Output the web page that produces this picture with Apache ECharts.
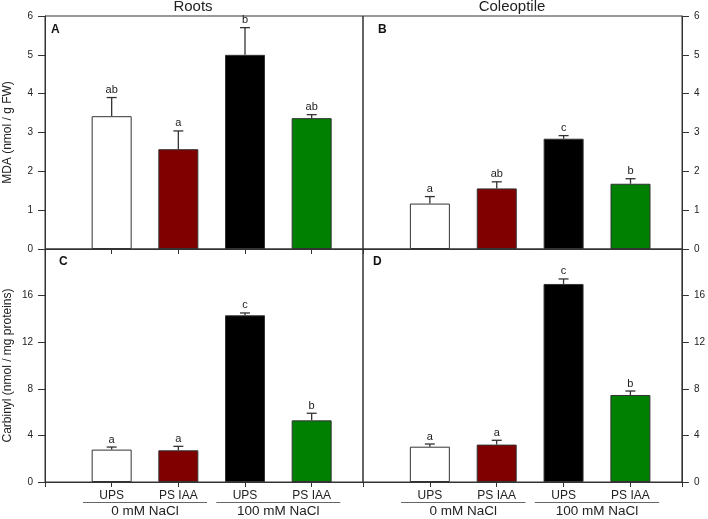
<!DOCTYPE html>
<html>
<head>
<meta charset="utf-8">
<script src="https://cdn.jsdelivr.net/npm/echarts@6/dist/echarts.min.js"></script>
<style>
  html, body { margin: 0; padding: 0; background: #fff; }
  #main { width: 708px; height: 519px; }
</style>
</head>
<body>
<div id="main"></div>
<script>
// categories and groups
var categories = ['UPS', 'PS IAA', 'UPS', 'PS IAA'];
var groups = ['0 mM NaCl', '100 mM NaCl'];
var barColors = ['#ffffff', '#800000', '#000000', '#008000'];

// MDA (nmol / g FW)
var mdaRoots = [3.42, 2.57, 5.0, 3.37];
var mdaRootsSd = [0.48, 0.47, 0.70, 0.09];
var mdaRootsSig = ['ab', 'a', 'b', 'ab'];
var mdaCol = [1.17, 1.56, 2.84, 1.68];
var mdaColSd = [0.18, 0.17, 0.08, 0.13];
var mdaColSig = ['a', 'ab', 'c', 'b'];

// Carbinyl (nmol / mg proteins)
var carbRoots = [2.78, 2.72, 14.31, 5.29];
var carbRootsSd = [0.22, 0.34, 0.20, 0.61];
var carbRootsSig = ['a', 'a', 'c', 'b'];
var carbCol = [3.03, 3.21, 17.0, 7.47];
var carbColSd = [0.23, 0.37, 0.43, 0.34];
var carbColSig = ['a', 'a', 'c', 'b'];

var FONT = '"Liberation Sans", Arial, sans-serif';
var XMAX = 4.77;
var chart = echarts.init(document.getElementById('main'));

// panel layout: A B / C D
var grids = [
    { left: 45, top: 16, width: 318, height: 233 },
    { left: 363, top: 16, width: 319, height: 233 },
    { left: 45, top: 249, width: 318, height: 233 },
    { left: 363, top: 249, width: 319, height: 233 }
];

function xAxisFor(i, showLabels, showTicks) {
    return {
        type: 'value', gridIndex: i, min: 0, max: XMAX, interval: 1,
        axisLine: { lineStyle: { color: '#333' } },
        splitLine: { show: false },
        axisTick: { show: showTicks, length: 5, lineStyle: { color: '#333' } },
        axisLabel: {
            show: showLabels, margin: 8, fontSize: 12, color: '#222', fontFamily: FONT,
            formatter: function (v) {
                return (v >= 1 && v <= 4 && v === Math.round(v)) ? categories[v - 1] : '';
            }
        }
    };
}

function yAxisFor(i, pos, max, interval, name) {
    return {
        type: 'value', gridIndex: i, position: pos, min: 0, max: max, interval: interval,
        name: name, nameLocation: 'middle', nameGap: 31,
        nameTextStyle: { fontSize: 12, color: '#222', fontFamily: FONT },
        axisLine: { show: true, onZero: false, lineStyle: { color: '#333' } },
        splitLine: { show: false },
        axisTick: { show: true, length: 7, lineStyle: { color: '#333' } },
        axisLabel: {
            fontSize: 10, color: '#222', fontFamily: FONT, margin: 12,
            showMaxLabel: max !== 20
        }
    };
}

function barSeries(i, vals) {
    return {
        type: 'bar', xAxisIndex: i, yAxisIndex: i, barWidth: 40,
        data: vals.map(function (v, k) {
            return { value: [k + 1, v], itemStyle: { color: barColors[k] } };
        }),
        itemStyle: { borderColor: '#333', borderWidth: 1 },
        silent: true
    };
}

function errSeries(i, vals, sd, sig) {
    return {
        type: 'custom', xAxisIndex: i, yAxisIndex: i, silent: true, z: 5,
        data: vals.map(function (v, k) { return [k + 1, v, v + sd[k], k]; }),
        renderItem: function (params, api) {
            var p0 = api.coord([api.value(0), api.value(1)]);
            var p1 = api.coord([api.value(0), api.value(2)]);
            var style = { stroke: '#333', lineWidth: 1.3 };
            return {
                type: 'group',
                children: [
                    { type: 'line', shape: { x1: p0[0], y1: p0[1], x2: p1[0], y2: p1[1] }, style: style },
                    { type: 'line', shape: { x1: p1[0] - 5, y1: p1[1], x2: p1[0] + 5, y2: p1[1] }, style: style },
                    {
                        type: 'text', x: p1[0], y: p1[1] - 2,
                        style: {
                            text: sig[api.value(3)], fill: '#222', font: '11px ' + FONT,
                            textAlign: 'center', textVerticalAlign: 'bottom'
                        }
                    }
                ]
            };
        }
    };
}

var option = {
    animation: false,
    backgroundColor: '#fff',
    grid: grids.map(function (g) {
        return Object.assign({ show: true, borderColor: '#333', borderWidth: 1, backgroundColor: 'transparent' }, g);
    }),
    xAxis: [
        xAxisFor(0, false, true),
        xAxisFor(1, false, false),
        xAxisFor(2, true, true),
        xAxisFor(3, true, true)
    ],
    yAxis: [
        yAxisFor(0, 'left', 6, 1, 'MDA (nmol / g FW)'),
        yAxisFor(1, 'right', 6, 1, ''),
        yAxisFor(2, 'left', 20, 4, 'Carbinyl (nmol / mg proteins)'),
        yAxisFor(3, 'right', 20, 4, '')
    ],
    series: [
        barSeries(0, mdaRoots), errSeries(0, mdaRoots, mdaRootsSd, mdaRootsSig),
        barSeries(1, mdaCol), errSeries(1, mdaCol, mdaColSd, mdaColSig),
        barSeries(2, carbRoots), errSeries(2, carbRoots, carbRootsSd, carbRootsSig),
        barSeries(3, carbCol), errSeries(3, carbCol, carbColSd, carbColSig)
    ]
};
chart.setOption(option);

// titles, panel letters and group brackets
var gfx = [
    { type: 'text', x: 193, y: 7, style: { text: 'Roots', font: '15px ' + FONT, fill: '#222', textAlign: 'center', textVerticalAlign: 'middle' } },
    { type: 'text', x: 512, y: 7, style: { text: 'Coleoptile', font: '15px ' + FONT, fill: '#222', textAlign: 'center', textVerticalAlign: 'middle' } },
    { type: 'text', left: 51, top: 24, style: { text: 'A', font: 'bold 12px ' + FONT, fill: '#111' } },
    { type: 'text', left: 378, top: 24, style: { text: 'B', font: 'bold 12px ' + FONT, fill: '#111' } },
    { type: 'text', left: 59, top: 256, style: { text: 'C', font: 'bold 12px ' + FONT, fill: '#111' } },
    { type: 'text', left: 373, top: 256, style: { text: 'D', font: 'bold 12px ' + FONT, fill: '#111' } }
];
[2, 3].forEach(function (gi) {
    [0, 1].forEach(function (g) {
        var a = chart.convertToPixel({ xAxisIndex: gi }, 2 * g + 1 - 0.43);
        var b = chart.convertToPixel({ xAxisIndex: gi }, 2 * g + 2 + 0.43);
        gfx.push({
            type: 'line', shape: { x1: a, y1: 502.5, x2: b, y2: 502.5 },
            style: { stroke: '#666', lineWidth: 1 }
        });
        gfx.push({
            type: 'text', x: (a + b) / 2, y: 511.5,
            style: { text: groups[g], font: '13.5px ' + FONT, fill: '#222', textAlign: 'center', textVerticalAlign: 'middle' }
        });
    });
});
chart.setOption({ graphic: gfx });
</script>
</body>
</html>
